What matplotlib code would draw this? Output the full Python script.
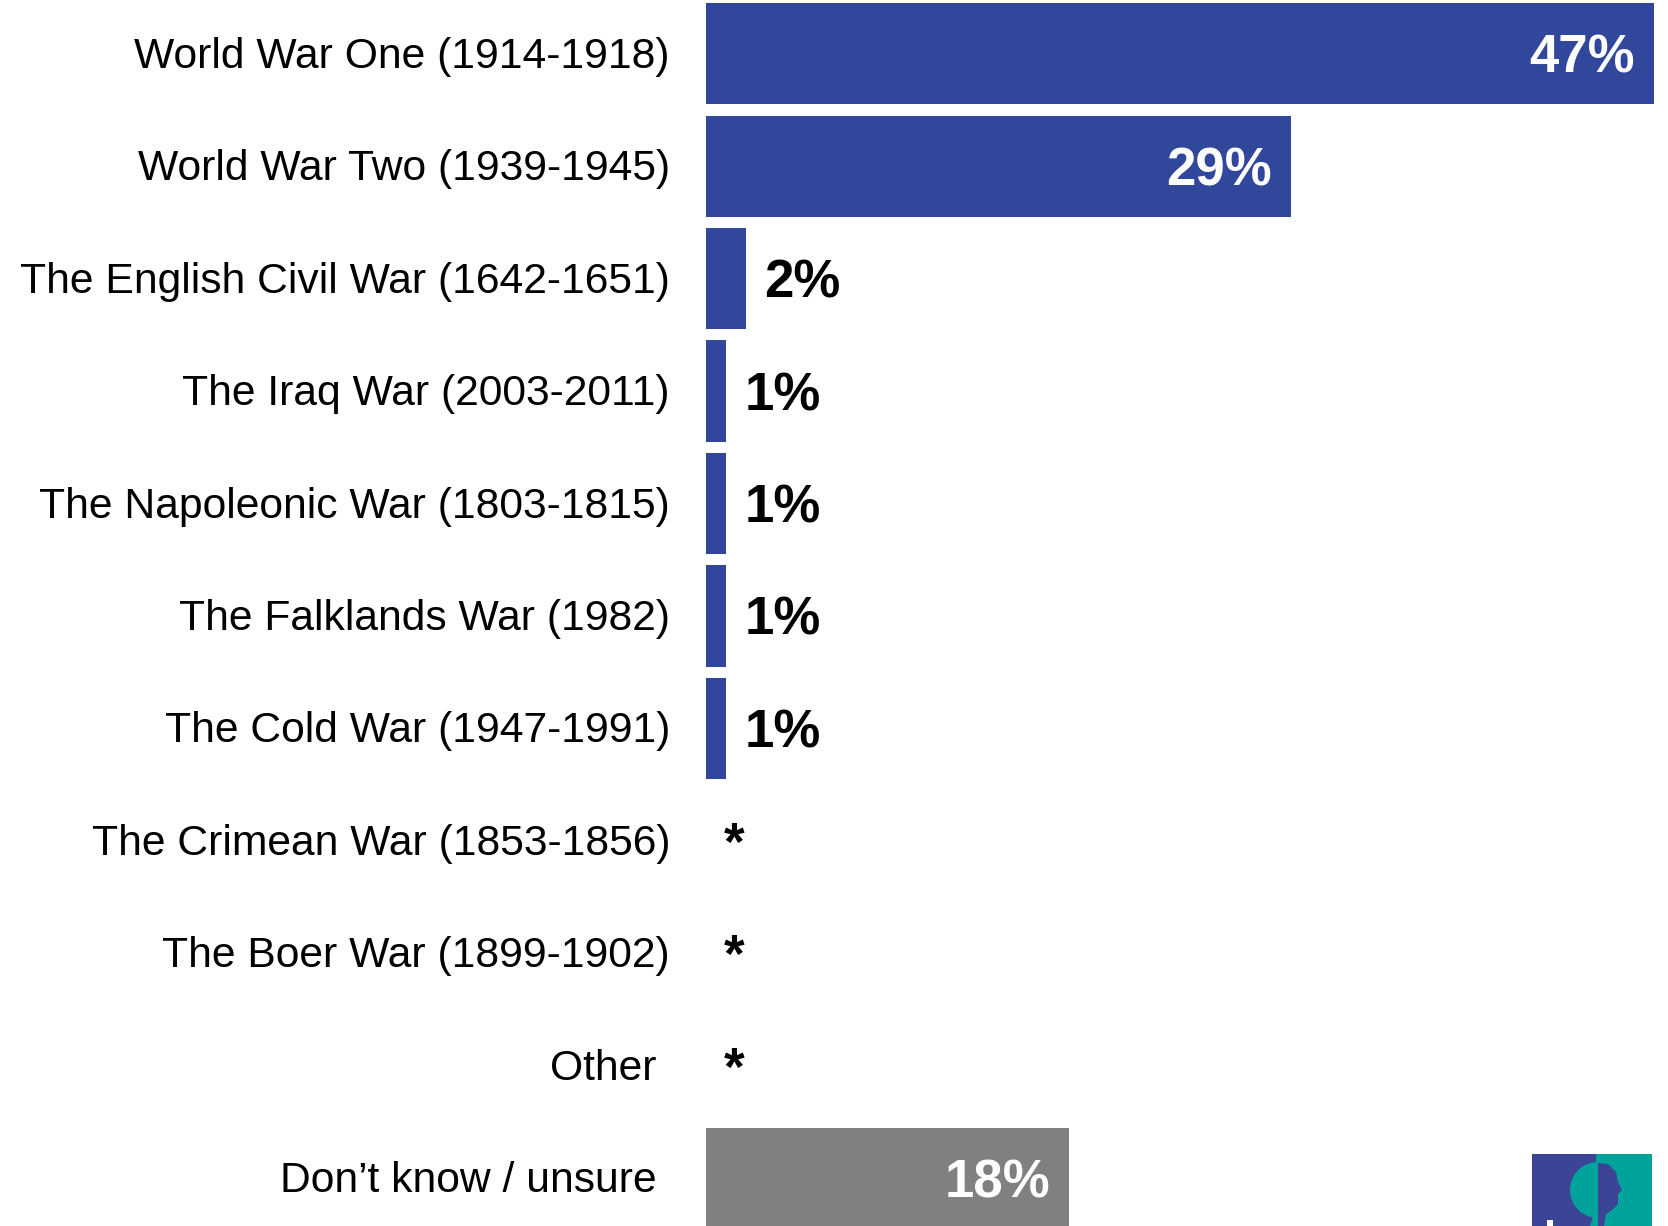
import matplotlib
matplotlib.use("Agg")
import matplotlib.pyplot as plt
from matplotlib.patches import Rectangle, Wedge, Ellipse, Polygon

categories = [
    "World War One (1914-1918)",
    "World War Two (1939-1945)",
    "The English Civil War (1642-1651)",
    "The Iraq War (2003-2011)",
    "The Napoleonic War (1803-1815)",
    "The Falklands War (1982)",
    "The Cold War (1947-1991)",
    "The Crimean War (1853-1856)",
    "The Boer War (1899-1902)",
    "Other",
    "Don\u2019t know / unsure",
]
values = [47, 29, 2, 1, 1, 1, 1, 0, 0, 0, 18]
value_labels = ["47%", "29%", "2%", "1%", "1%", "1%", "1%", "*", "*", "*", "18%"]

BLUE = "#31479C"
GREY = "#808080"
bar_colors = [BLUE] * 10 + [GREY]
inside = [v >= 10 for v in values]

W, H = 1668, 1226
fig = plt.figure(figsize=(W / 100, H / 100), dpi=100)
fig.patch.set_facecolor("white")
ax = fig.add_axes([706 / W, 0, (W - 706) / W, 1])
ax.set_xlim(0, 47.69)
ax.set_ylim(10.425, -0.4776)
ax.axis("off")

ypos = list(range(len(categories)))
ax.barh(ypos, values, height=0.9, color=bar_colors, edgecolor="none")

font = "Liberation Sans"
for y, v, lab, ins in zip(ypos, values, value_labels, inside):
    if ins:
        ax.annotate(lab, (v, y), xytext=(-19, -5), textcoords="offset pixels",
                    ha="right", va="center", color="white", fontsize=38,
                    fontweight="bold", family=font)
    else:
        ax.annotate(lab, (v, y), xytext=(18, -5), textcoords="offset pixels",
                    ha="left", va="center", color="black", fontsize=38,
                    fontweight="bold", family=font)

label_right = [670] * 9 + [657, 657]
for y, cat, xr in zip(ypos, categories, label_right):
    ax.annotate(cat, (xr / W, y), xycoords=("figure fraction", "data"),
                xytext=(0, -3), textcoords="offset pixels",
                ha="right", va="center", fontsize=30.7, family=font,
                color="black", annotation_clip=False)

# logo (bottom right)
lax = fig.add_axes([0, 0, 1, 1], zorder=5)
lax.set_xlim(0, W)
lax.set_ylim(H, 0)
lax.axis("off")
PURPLE = "#3C4496"
TEAL = "#00A39B"
lax.add_patch(Rectangle((1532, 1154), 64, 80, color=PURPLE, lw=0))
lax.add_patch(Rectangle((1596, 1154), 56, 80, color=TEAL, lw=0))
# tree crown (teal, left of split)
lax.add_patch(Wedge((1598, 1190), 28, 90, 270, color=TEAL, lw=0))
# head profile (purple, right of split)
lax.add_patch(Polygon([(1598, 1163), (1608, 1164), (1616, 1172), (1618, 1182),
                       (1622, 1190), (1618, 1194), (1618, 1204), (1612, 1210),
                       (1606, 1214), (1604, 1226), (1598, 1226)],
                      closed=True, color=PURPLE, lw=0))
# trunk
lax.add_patch(Polygon([(1590, 1226), (1594, 1214), (1598, 1214), (1598, 1226)],
                      closed=True, color=TEAL, lw=0))
lax.add_patch(Rectangle((1547, 1220), 6, 10, color="white", lw=0))

fig.savefig("out.png", dpi=100, facecolor="white")
